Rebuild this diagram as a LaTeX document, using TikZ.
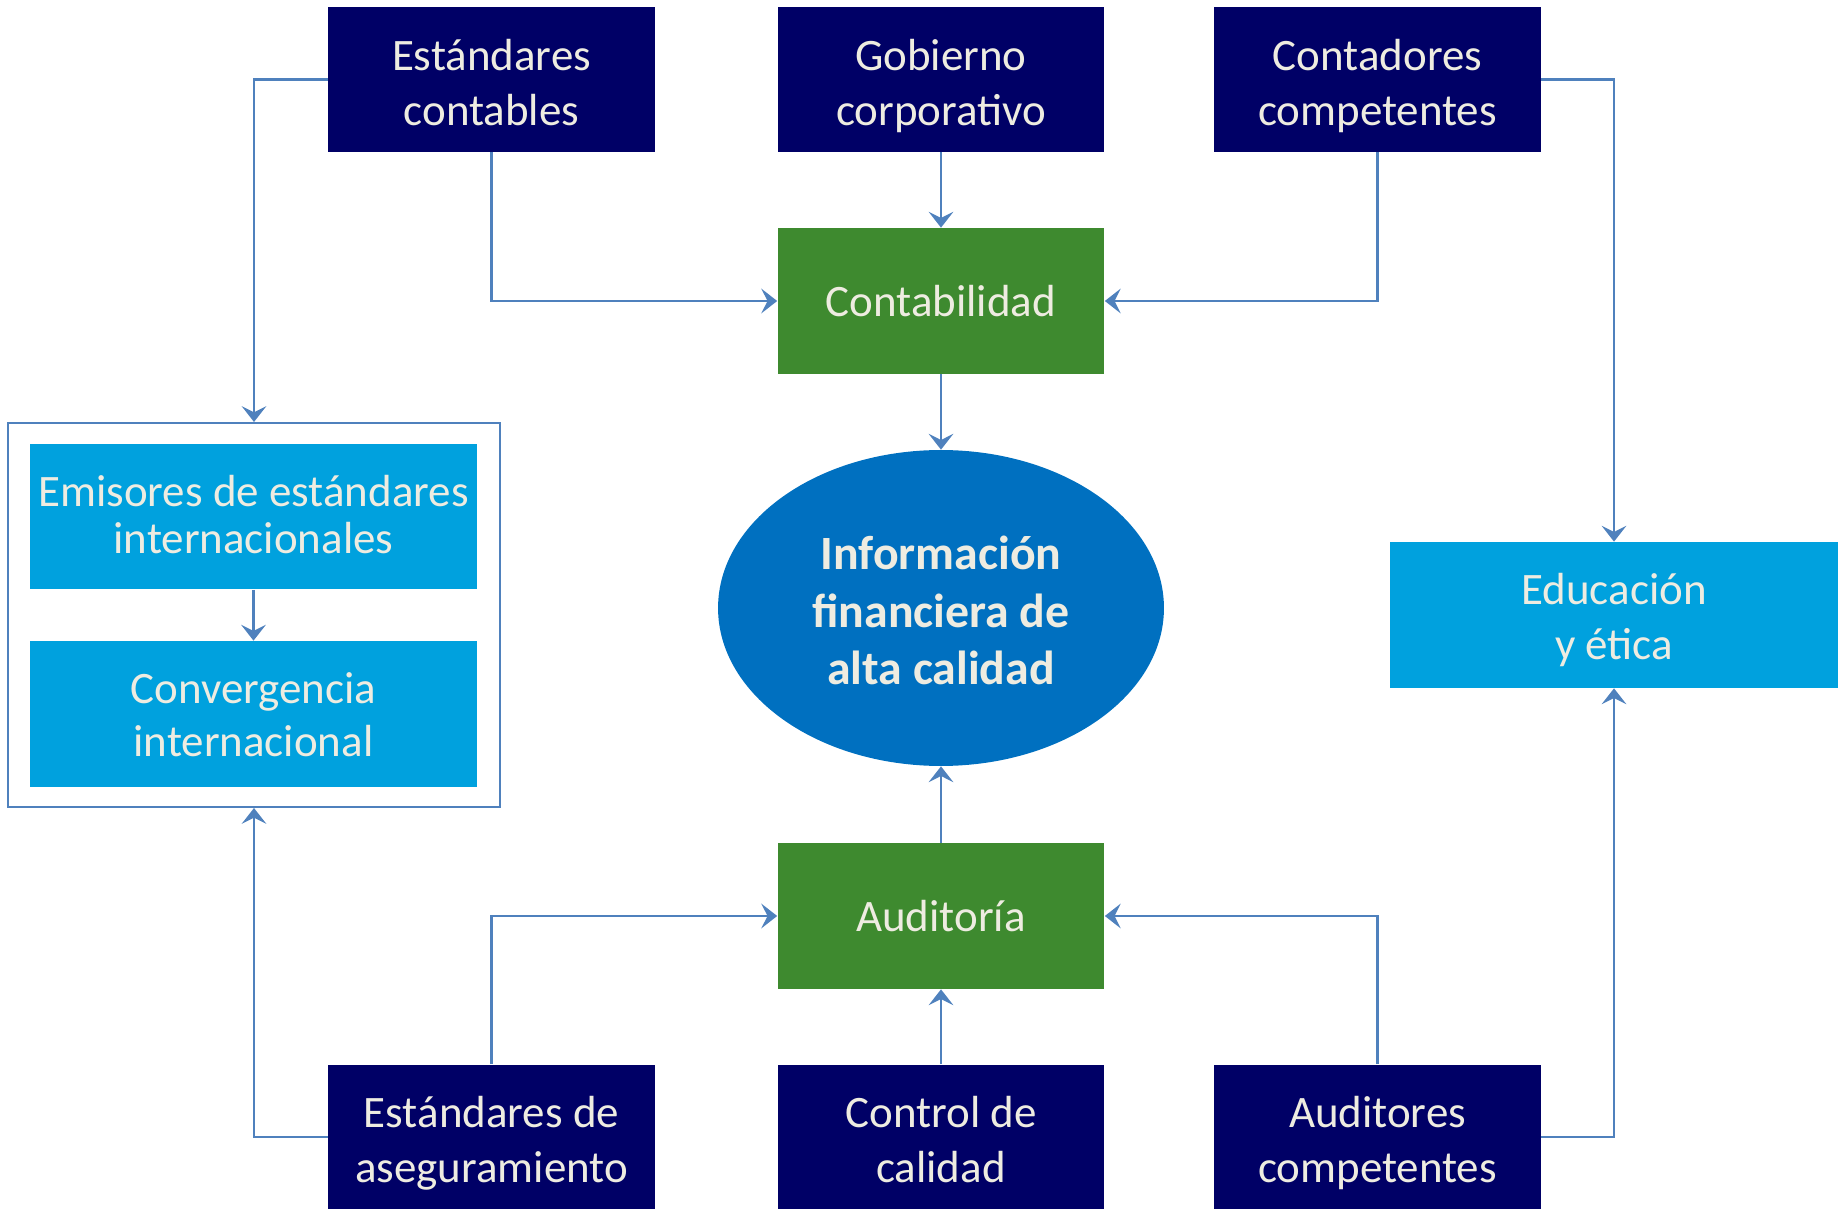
\documentclass[tikz,border=0pt]{standalone}
\usepackage{fontspec}
\setmainfont{Carlito}
\usepackage{tikz}
\usetikzlibrary{shapes, shapes.geometric, arrows.meta}
\definecolor{navy}{RGB}{0,0,102}
\definecolor{leaf}{RGB}{62,138,47}
\definecolor{deepblue}{RGB}{0,112,192}
\definecolor{skyblue}{RGB}{0,161,222}
\definecolor{wire}{RGB}{79,129,189}
\definecolor{paper}{RGB}{238,236,225}
\newcommand\headroom{26pt}
\newcommand\headstrut{\rule{0pt}{\headroom}}
\newcommand\footstrut{\rule[-8pt]{0pt}{8pt}}
\tikzset{headroom/.code={\def\headroom{#1}}}
\tikzstyle{arrow} = [wire, line width=1.4pt, -{Stealth[length=9pt, width=14pt, inset=3.5pt]}]
\tikzstyle{boxtext} = [align=center, text=paper, execute at begin node=\headstrut, execute at end node=\footstrut]
\tikzstyle{pillar} = [rectangle, boxtext, headroom=59.8pt, minimum width = 6.54cm, minimum height = 2.9cm, fill=navy, font=\fontsize{25.6}{31.2}\selectfont]
\tikzstyle{practice} = [rectangle, boxtext, headroom=26pt, minimum width = 6.54cm, minimum height = 2.92cm, fill=leaf, font=\fontsize{25.6}{31.2}\selectfont]
\tikzstyle{aim} = [ellipse, boxtext, headroom=95.4pt, minimum width = 8.92cm, minimum height = 6.32cm, fill=deepblue, font=\bfseries\fontsize{27.2}{32.8}\selectfont]
\tikzstyle{side} = [rectangle, boxtext, minimum width = 8.96cm, minimum height = 2.92cm, fill=skyblue, font=\fontsize{25.6}{26.8}\selectfont]
\tikzstyle{frame} = [rectangle, minimum width = 9.84cm, minimum height = 7.68cm, draw=wire, line width=1.2pt]

\begin{document}
\begin{tikzpicture}[x=0.02cm, y=-0.02cm]
				\useasboundingbox (0,0) rectangle (1843,1209);
				%\node(label)[type]{name}
				\node(group)[frame] at (254,615){};
				\node(ec)[pillar] at (491.5,79.5){Estándares\\contables};
				\node(gob)[pillar] at (941,79.5){Gobierno\\corporativo};
				\node(cc)[pillar] at (1377.5,79.5){Contadores\\competentes};
				
				\node(contab)[practice] at (941,301){Contabilidad};
				\node(info)[aim] at (941,608){Información\\financiera de\\alta calidad};
				\node(aud)[practice] at (941,916){Auditoría};
				
				\node(emi)[side, headroom=50.6pt] at (253.5,516.5){Emisores de estándares\\internacionales};
				\node(conv)[side, headroom=56.7pt, font=\fontsize{25.6}{30.6}\selectfont] at (253.5,714){Convergencia\\internacional};
				\node(edu)[side, headroom=58.7pt, font=\fontsize{25.6}{31.5}\selectfont] at (1614,615){Educación\\y ética};
				
				\node(ea)[pillar] at (491.5,1137){Estándares de\\aseguramiento};
				\node(ctrl)[pillar] at (941,1137){Control de\\calidad};
				\node(ac)[pillar] at (1377.5,1137){Auditores\\competentes};
				
				%arrows
					\draw [arrow] (ec.west) -| (group.north);
					\draw [arrow] (ec.south) |- (contab.west);
					\draw [arrow] (gob) -- (contab);
					\draw [arrow] (cc.south) |- (contab.east);
					\draw [arrow] (cc.east) -| (edu.north);
					\draw [arrow] (contab) -- (info);
					\draw [arrow] (emi) -- (conv);
					\draw [arrow] (aud) -- (info);
					\draw [arrow] (ea.north) |- (aud.west);
					\draw [arrow] (ctrl) -- (aud);
					\draw [arrow] (ac.north) |- (aud.east);
					\draw [arrow] (ea.west) -| (group.south);
					\draw [arrow] (ac.east) -| (edu.south);
				\end{tikzpicture}
\end{document}
